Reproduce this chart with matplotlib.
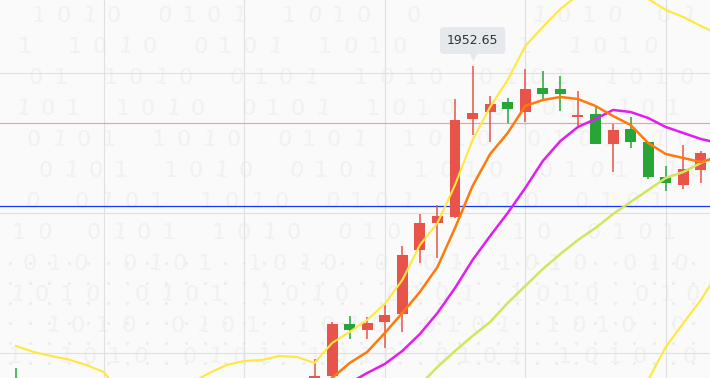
import numpy as np
import matplotlib
matplotlib.use("Agg")
from matplotlib import pyplot as plt
from matplotlib.patches import Rectangle
import matplotlib.transforms as mtransforms

# candles: bar index, open, high, low, close (bars 1-16 sit below the view)
candle_idx = [0, 17, 18, 19, 20, 21, 22, 23, 24, 25, 26, 27, 28, 29,
              30, 31, 32, 33, 34, 35, 36, 37, 38, 39]
opens = [1838.00, 1838.93, 1841.79, 1860.36, 1858.21, 1861.07, 1863.93, 1886.79,
         1896.43, 1898.57, 1933.57, 1936.07, 1939.64, 1936.07, 1944.64, 1944.29,
         1934.29, 1935.36, 1924.64, 1930.00, 1925.36, 1912.86, 1910.00, 1915.36]
highs = [1844.64, 1847.86, 1861.07, 1863.21, 1862.86, 1867.14, 1888.21, 1899.64,
         1902.86, 1940.71, 1952.65, 1941.79, 1941.07, 1951.43, 1950.71, 1948.93,
         1943.57, 1937.86, 1931.79, 1934.29, 1925.36, 1916.79, 1924.29, 1922.14]
lows = [1832.00, 1837.50, 1841.43, 1855.00, 1855.00, 1851.79, 1857.50, 1882.14,
        1883.93, 1898.20, 1927.86, 1925.36, 1932.14, 1932.50, 1940.36, 1936.43,
        1930.71, 1924.64, 1914.64, 1923.21, 1912.14, 1907.86, 1908.57, 1910.71]
closes = [1835.00, 1841.79, 1860.36, 1858.21, 1860.71, 1863.57, 1885.00, 1896.43,
          1898.93, 1933.21, 1935.71, 1938.93, 1937.14, 1944.29, 1942.50, 1942.50,
          1935.00, 1924.64, 1929.64, 1925.36, 1912.86, 1910.71, 1915.71, 1921.43]

# indicator lines
upper_idx = list(range(0, 41))
upper = [1852.50, 1850.36, 1848.93, 1847.68, 1845.71, 1843.21,
         1835.00, 1833.21, 1832.50, 1833.93, 1839.29,
         1842.86, 1845.71, 1847.14, 1847.50, 1848.93, 1848.57, 1846.43,
         1853.57, 1857.50, 1861.79, 1867.50, 1876.07, 1888.57, 1896.43, 1910.00,
         1926.07, 1937.86, 1947.50, 1959.64, 1966.43, 1972.86, 1977.86, 1980.36,
         1981.07, 1979.64, 1976.43, 1972.50, 1970.00, 1966.79, 1963.93]
mid_idx = list(range(16, 41))
mid = [1829.60, 1835.00, 1841.07, 1846.43, 1850.36, 1857.14, 1864.29, 1871.79,
       1880.71, 1894.64, 1909.64, 1921.07, 1928.57, 1938.21, 1940.36, 1941.43,
       1940.71, 1938.21, 1934.64, 1931.43, 1925.00, 1921.07, 1919.64, 1918.21,
       1920.00]
lower_idx = list(range(35, 41))
lower = [1829.60, 1840.36, 1852.14, 1860.71, 1868.93, 1879.00]
ma_pink_idx = list(range(18, 41))
ma_pink = [1835.00, 1839.29, 1842.86, 1846.07, 1850.71, 1856.79, 1864.29, 1873.21,
           1883.21, 1891.79, 1900.00, 1908.93, 1918.57, 1925.71, 1930.71, 1933.57,
           1936.79, 1936.07, 1933.93, 1930.71, 1928.57, 1926.43, 1925.00]
ma_lime_idx = list(range(22, 41))
ma_lime = [1833.20, 1838.57, 1845.00, 1850.71, 1856.07, 1861.07, 1867.86, 1873.93,
           1880.00, 1885.36, 1890.36, 1894.64, 1899.64, 1903.93, 1908.21, 1912.50,
           1914.64, 1917.86, 1920.71]

tip_value = 1952.65
tip_bar = 26
last_price = 1932.14
blue_level = 1902.50
grid_bars = [5, 13, 21, 29, 37]
grid_prices = [1850, 1900, 1950]

RED = "#e8534a"
GREEN = "#27a637"

fig = plt.figure(figsize=(7.1, 3.78), dpi=100)
fig.patch.set_facecolor("#fafafa")

# background layer: faint watermark digits and dot pattern, in pixel coordinates
bg = fig.add_axes([0, 0, 1, 1], zorder=0)
bg.set_facecolor("#fafafa")
bg.set_xlim(0, 710)
bg.set_ylim(378, 0)
bg.axis("off")
for r, y in enumerate(range(16, 366, 31)):
    shift = (r * 11) % 24
    for c, x in enumerate(range(14 + shift, 698, 25)):
        if (c * 7 + r * 3) % 5 == 0:
            continue
        if 425 < x < 520 and y < 70:   # keep clear of the tooltip
            continue
        ch = "01"[(c + r) % 2]
        rot = -8 if (c + 2 * r) % 3 == 0 else 0
        bg.text(x, y, ch, fontsize=16, color="#f1f1f1", rotation=rot,
                ha="center", va="center", family="DejaVu Sans")
dx = np.arange(10, 712, 19.5)
for dy in [263, 283, 303, 323, 343, 363]:
    bg.scatter(dx, np.full_like(dx, dy), s=5, color="#ececec", linewidths=0)

ax = fig.add_axes([0, 0, 1, 1], zorder=1)
ax.patch.set_alpha(0)
ax.set_xlim(-0.91, 39.52)
ax.set_ylim(1841.07, 1976.07)
for s in ax.spines.values():
    s.set_visible(False)
ax.set_xticks(grid_bars)
ax.set_yticks(grid_prices)
ax.tick_params(length=0, labelbottom=False, labelleft=False)
ax.grid(True, color="#dfdfe5", lw=0.8)

ax.axhline(last_price, color="#eba3a3", lw=0.9, zorder=2)
ax.axhline(blue_level, color="#1538ff", lw=0.9, zorder=2)

# candles
for i, o, h, l, c in zip(candle_idx, opens, highs, lows, closes):
    col = RED if c >= o else GREEN
    ax.vlines(i, l, h, color=col, lw=1.1, zorder=3)
    ax.add_patch(Rectangle((i - 0.31, min(o, c)), 0.62, max(abs(c - o), 0.35),
                           facecolor=col, edgecolor="none", zorder=3))

# indicator lines drawn over the candles
ax.plot(upper_idx, upper, color="#ffe83a", lw=1.5, zorder=4)
ax.plot(lower_idx, lower, color="#ffe83a", lw=1.5, zorder=4)
ax.plot(ma_lime_idx, ma_lime, color="#d2e65c", lw=1.8, zorder=4)
ax.plot(ma_pink_idx, ma_pink, color="#e31cf0", lw=1.8, zorder=4)
ax.plot(mid_idx, mid, color="#ff7a0a", lw=1.8, zorder=4)

# tooltip on the high
ax.annotate(f"{tip_value:.2f}", xy=(tip_bar, tip_value), xytext=(0, 25),
            textcoords="offset pixels", ha="center", va="center",
            fontsize=9, color="#333333", family="DejaVu Sans", zorder=6,
            bbox=dict(boxstyle="round,pad=0.55,rounding_size=0.3",
                      fc="#e5e8ec", ec="none"))
tri = mtransforms.offset_copy(ax.transData, fig=fig, x=0, y=10, units="dots")
ax.scatter([tip_bar], [tip_value], marker="v", s=50, color="#e5e8ec",
           linewidths=0, transform=tri, zorder=6)

plt.savefig("out.png", dpi=100, facecolor=fig.get_facecolor())
